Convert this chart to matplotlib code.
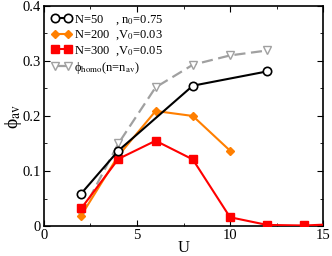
import matplotlib
matplotlib.use("Agg")
import matplotlib.pyplot as plt
from matplotlib.ticker import MultipleLocator, FuncFormatter

U_black = [2, 4, 8, 12]
phi_black = [0.059, 0.137, 0.255, 0.281]
U_orange = [2, 4, 6, 8, 10]
phi_orange = [0.019, 0.128, 0.209, 0.200, 0.137]
U_red = [2, 4, 6, 8, 10, 12, 14, 16]
phi_red = [0.032, 0.122, 0.155, 0.121, 0.016, 0.002, 0.001, 0.004]
U_gray = [2, 4, 6, 8, 10, 12]
phi_gray = [0.022, 0.150, 0.252, 0.293, 0.310, 0.319]

labels = [r"N=50    , n$_0$=0.75", r"N=200  ,V$_0$=0.03", r"N=300  ,V$_0$=0.05",
          r"ϕ$_{\rm homo}$(n=n$_{\rm av}$)"]

plt.rcParams['font.family'] = ['Liberation Serif', 'DejaVu Serif']
plt.rcParams['mathtext.fontset'] = 'stix'

fig = plt.figure(figsize=(3.32, 2.56), dpi=100)
ax = fig.add_axes([0.1325, 0.117, 0.8405, 0.86])

ax.plot(U_gray, phi_gray, color='#a0a0a0', lw=1.6, ls=(0, (5, 2.5)), marker='v',
        ms=6, mfc='white', mec='#a0a0a0', mew=1.0, label=labels[3], zorder=2)
ax.plot(U_black, phi_black, color='black', lw=1.5, marker='o', ms=6, mfc='white',
        mec='black', mew=1.2, label=labels[0], zorder=4)
ax.plot(U_orange, phi_orange, color='#ff7f00', lw=1.5, marker='D', ms=4.5,
        mfc='#ff7f00', mec='#ff7f00', label=labels[1], zorder=3)
ax.plot(U_red, phi_red, color='#ff0000', lw=1.5, marker='s', ms=5.5,
        mfc='#ff0000', mec='#ff0000', label=labels[2], zorder=3)

ax.set_xlim(0, 15)
ax.set_ylim(0, 0.4)
ax.xaxis.set_major_locator(MultipleLocator(5))
ax.xaxis.set_minor_locator(MultipleLocator(2.5))
ax.yaxis.set_major_locator(MultipleLocator(0.1))
ax.yaxis.set_minor_locator(MultipleLocator(0.05))
ax.yaxis.set_major_formatter(FuncFormatter(lambda v, p: "0" if abs(v) < 1e-9 else f"{v:.1f}"))
ax.tick_params(which='both', direction='in', top=True, right=True, labelsize=10.5)
ax.tick_params(which='major', length=4, pad=2)
ax.tick_params(which='minor', length=2)
for s in ax.spines.values():
    s.set_linewidth(1.2)

ax.set_xlabel("U", fontsize=12, labelpad=-1)
ax.set_ylabel(r"ϕ$_{\rm av}$", fontsize=14, labelpad=-1)

h, l = ax.get_legend_handles_labels()
order = [1, 2, 3, 0]
ax.legend([h[i] for i in order], [l[i] for i in order], loc='upper left', frameon=False,
          fontsize=9, numpoints=2, handlelength=1.6, handletextpad=0.2,
          labelspacing=0.15, borderaxespad=0.2)

fig.savefig("out.png", dpi=100)
